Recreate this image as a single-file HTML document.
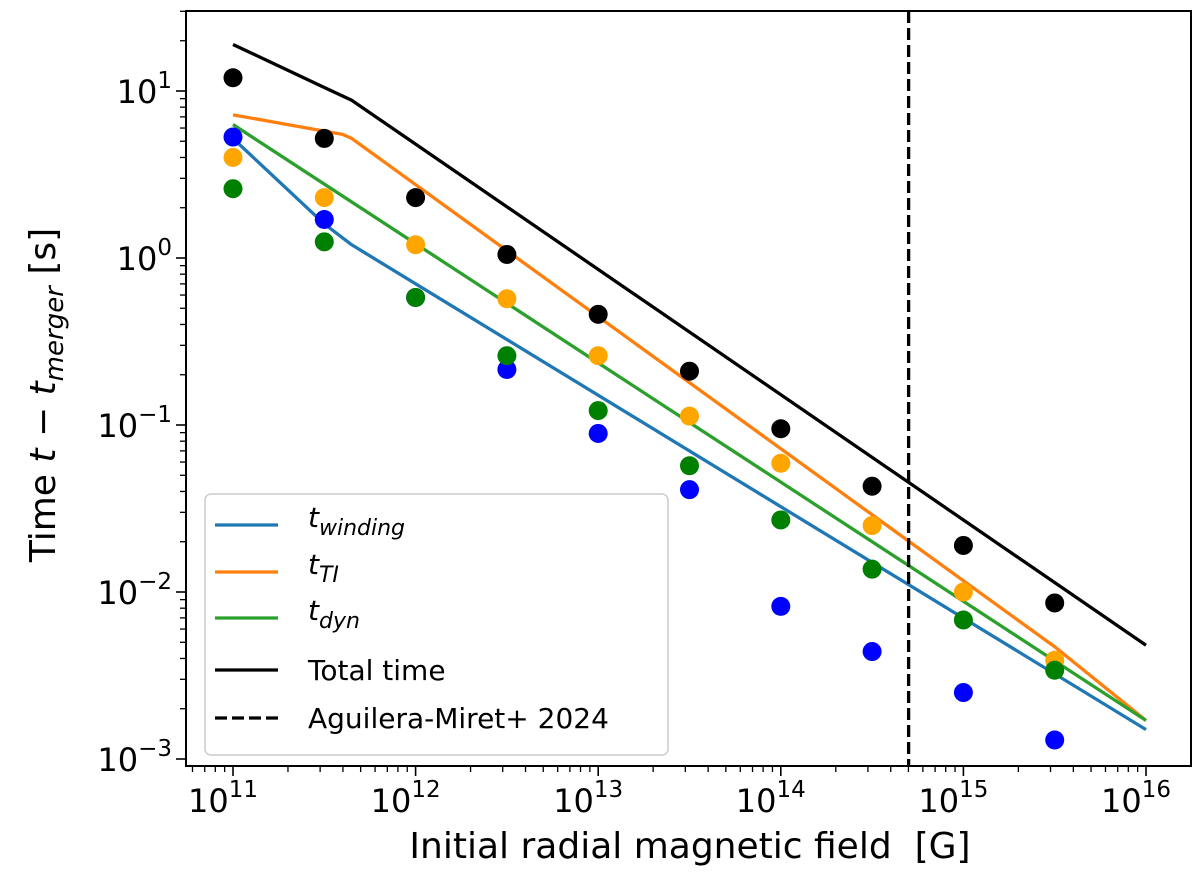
<!DOCTYPE html>
<html><head><meta charset="utf-8"><style>body{margin:0;background:#fff}svg{display:block}text{font-family:"DejaVu Sans","Liberation Sans",sans-serif}</style></head>
<body>
<svg id="c" width="1200" height="874"></svg>
<script>
const fields=[11,11.5,12,12.5,13,13.5,14,14.5,15,15.5];
const totalDots=[12,5.2,2.3,1.05,0.46,0.21,0.095,0.043,0.019,0.0086];
const tiDots=[4.0,2.3,1.2,0.57,0.26,0.113,0.059,0.025,0.010,0.0039];
const dynDots=[2.6,1.25,0.58,0.26,0.122,0.057,0.027,0.0137,0.0068,0.0034];
const windDots=[5.3,1.7,0.58,0.215,0.089,0.041,0.0082,0.0044,0.0025,0.0013];
const totalLineX=[11,11.5,11.65,16];const totalLineY=[19,10.5,8.8,0.0048];
const tiLineX=[11,11.6,11.65,15.5,16];const tiLineY=[7.2,5.5,5.2,0.0047,0.0017];
const dynLineX=[11,16];const dynLineY=[6.3,0.0017];
const windLineX=[11,11.5,11.65,16];const windLineY=[5.2,1.6,1.2,0.0015];
const vline=14.7;
const xTicks=[11,12,13,14,15,16];const yTicks=[1,0,-1,-2,-3];
const NS="http://www.w3.org/2000/svg",svg=document.getElementById('c');
const L=186,R=1191,T=11,B=766;
const X=v=>233+(v-11)*182.6, Y=v=>258-Math.log10(v)*167, YL=e=>258-e*167;
function el(t,a,p){const e=document.createElementNS(NS,t);for(const k in a)e.setAttribute(k,a[k]);(p||svg).appendChild(e);return e;}
for(let d=10;d<=16;d++)for(let m=2;m<=9;m++){const x=X(d+Math.log10(m));if(x>L&&x<R){const t=el('line',{x1:x,x2:x,y1:B,y2:B+6,stroke:'#000','stroke-width':1.3});}}
for(let d=-4;d<=1;d++)for(let m=2;m<=9;m++){const y=YL(d+Math.log10(m));if(y>T&&y<B){const t=el('line',{x1:L-6,x2:L,y1:y,y2:y,stroke:'#000','stroke-width':1.3});}}
xTicks.forEach(d=>{const x=X(d);el('line',{x1:x,x2:x,y1:B,y2:B+10,stroke:'#000','stroke-width':1.6});const t=el('text',{x:x-10,y:B+46,'font-size':32,'text-anchor':'middle'});t.innerHTML='10<tspan dy="-15" font-size="23">'+d+'</tspan>';});
yTicks.forEach(d=>{const y=YL(d);el('line',{x1:L-10,x2:L,y1:y,y2:y,stroke:'#000','stroke-width':1.6});const t=el('text',{x:L-14,y:y+12,'font-size':32,'text-anchor':'end'});t.innerHTML='10<tspan dy="-15" font-size="23">'+(d<0?'\u2212'+(-d):d)+'</tspan>';});
function line(xs,ys,c,n){const p=el('polyline',{points:xs.map((x,i)=>X(x)+','+Y(ys[i])).join(' '),fill:'none',stroke:c,'stroke-width':3.3,'stroke-linejoin':'round'});}
function dots(ys,c,n){ys.forEach((v,i)=>{const d=el('circle',{cx:X(fields[i]),cy:Y(v),r:9.5,fill:c});});}
line(windLineX,windLineY,'#1f77b4','winding-line');line(tiLineX,tiLineY,'#ff7f0e','ti-line');line(dynLineX,dynLineY,'#2ca02c','dyn-line');line(totalLineX,totalLineY,'#000','total-line');
dots(windDots,'#0000ff','winding-dot');dots(tiDots,'#ffa500','ti-dot');dots(dynDots,'#008000','dyn-dot');dots(totalDots,'#000','total-dot');
const vl=el('line',{x1:X(vline),x2:X(vline),y1:T,y2:B,stroke:'#000','stroke-width':3.3,'stroke-dasharray':'12,5'});
const fr=el('rect',{x:L,y:T,width:R-L,height:B-T,fill:'none',stroke:'#000','stroke-width':2});
const lg=el('g',{});
el('rect',{x:205,y:494,width:463,height:261,rx:6,fill:'#fff','fill-opacity':0.85,stroke:'#ccc','stroke-width':1.5},lg);
const ents=[['#1f77b4','','t<tspan dy="8" font-size="22">winding</tspan>',525],['#ff7f0e','','t<tspan dy="8" font-size="22">TI</tspan>',572],['#2ca02c','','t<tspan dy="8" font-size="22">dyn</tspan>',618],['#000','','Total time',670],['#000','12,5','Aguilera-Miret+ 2024',718]];
ents.forEach((e,i)=>{const g=el('g',{},lg);el('line',{x1:215,x2:278,y1:e[3],y2:e[3],stroke:e[0],'stroke-width':3.3,'stroke-dasharray':e[1]||'none'},g);const t=el('text',{x:308,y:e[3]+(i<3?2:10),'font-size':28,'font-style':i<3?'italic':'normal'},g);t.innerHTML=e[2];});
const xt=el('text',{x:690,y:858,'font-size':36,'text-anchor':'middle'});xt.textContent='Initial radial magnetic field\u00a0 [G]';
const yt=el('text',{x:0,y:0,'font-size':36,'text-anchor':'middle',transform:'translate(55,395) rotate(-90)'});
yt.innerHTML='Time <tspan font-style="italic">t</tspan> \u2212 <tspan font-style="italic">t</tspan><tspan font-style="italic" font-size="26" dy="8">merger</tspan><tspan dy="-8"> [s]</tspan>';
</script>
</body></html>
